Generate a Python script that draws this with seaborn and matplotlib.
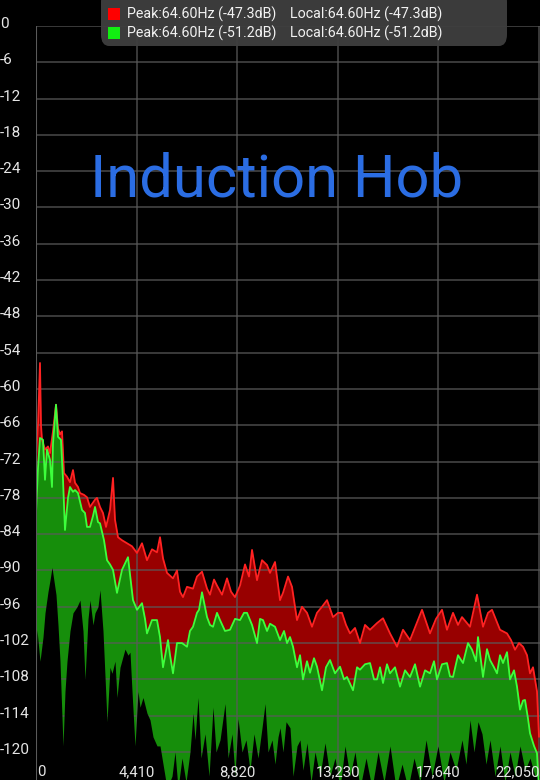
import numpy as np
import pandas as pd
import matplotlib
matplotlib.use("Agg")
import matplotlib.pyplot as plt
import matplotlib.transforms as mtransforms
from matplotlib.patches import FancyBboxPatch, Rectangle
import seaborn as sns

# ---------------- data ----------------
red_freq = [0, 88, 175, 219, 263, 395, 526, 614, 745, 877, 964, 1052, 1140, 1227, 1359, 1490, 1622,
            1710, 1841, 1929, 2104, 2236, 2367, 2587, 2674, 2806, 2937, 3069, 3244, 3376, 3463, 3595,
            3770, 3990, 4209, 4428, 4647, 4866, 5085, 5305, 5436, 5568, 5743, 6006, 6181, 6313, 6444,
            6620, 6883, 7058, 7277, 7497, 7628, 7804, 7935, 8155, 8374, 8549, 8724, 8944, 9163, 9338,
            9470, 9689, 9908, 10128, 10259, 10478, 10697, 10829, 11048, 11222, 11442, 11661, 11880,
            12100, 12319, 12538, 12757, 13020, 13240, 13415, 13590, 13765, 13985, 14204, 14423, 14642,
            14949, 15212, 15519, 15826, 16089, 16396, 16659, 16922, 17272, 17535, 17798, 18017, 18281,
            18500, 18675, 19026, 19333, 19596, 19815, 19990, 20341, 20648, 20823, 20999, 21174, 21350,
            21525, 21656, 21788, 21963, 22050]
red_db = [-71.2, -66.0, -55.7, -66.0, -68.4, -70.0, -69.5, -70.6, -67.0, -62.6, -66.5, -67.5, -67.0,
          -73.9, -74.5, -75.4, -73.4, -75.5, -76.2, -77.2, -77.5, -77.9, -79.5, -78.3, -78.0, -79.5,
          -80.5, -82.8, -80.0, -74.7, -81.6, -84.5, -85.0, -85.5, -86.0, -87.1, -85.5, -88.3, -86.5,
          -87.0, -84.5, -88.0, -90.4, -91.3, -90.0, -93.5, -94.4, -92.7, -93.0, -91.0, -90.2, -93.0,
          -94.0, -91.5, -92.5, -94.0, -91.3, -93.5, -94.4, -92.5, -89.0, -91.0, -86.6, -91.6, -88.3,
          -89.1, -90.4, -88.6, -94.9, -93.7, -91.0, -92.7, -98.2, -96.0, -97.0, -99.3, -97.0, -96.0,
          -94.9, -97.7, -97.0, -97.0, -99.0, -100.4, -99.5, -102.0, -99.0, -99.8, -98.7, -97.9,
          -100.4, -102.6, -99.8, -101.5, -99.0, -96.5, -100.4, -98.0, -96.5, -99.8, -97.0, -99.0,
          -97.7, -99.3, -94.0, -99.3, -97.0, -96.5, -99.8, -100.4, -101.5, -103.1, -102.0, -102.6,
          -104.0, -107.0, -106.0, -110.0, -117.5]

green_freq = [0, 88, 175, 307, 395, 482, 614, 701, 745, 877, 964, 1096, 1184, 1271, 1403, 1490, 1622,
              1710, 1841, 2017, 2148, 2236, 2367, 2499, 2587, 2718, 2806, 2981, 3113, 3244, 3376, 3551,
              3770, 4033, 4165, 4253, 4428, 4647, 4779, 4866, 5085, 5305, 5436, 5568, 5787, 5875, 6006,
              6181, 6401, 6620, 6751, 6883, 7058, 7146, 7277, 7497, 7628, 7760, 7935, 8067, 8286, 8505,
              8724, 8944, 9119, 9251, 9470, 9689, 9821, 9952, 10128, 10259, 10478, 10697, 10873, 11004,
              11135, 11267, 11442, 11574, 11705, 11880, 12012, 12187, 12319, 12538, 12713, 12889, 13108,
              13327, 13503, 13634, 13897, 14073, 14204, 14423, 14642, 14818, 14949, 15081, 15212, 15387,
              15519, 15738, 15957, 16177, 16396, 16615, 16835, 17054, 17272, 17448, 17579, 17798, 18017,
              18149, 18281, 18500, 18719, 18938, 19114, 19289, 19377, 19508, 19596, 19771, 19903, 20078,
              20209, 20341, 20473, 20648, 20779, 20955, 21086, 21218, 21350, 21437, 21569, 21656, 21832,
              21963, 22050]
green_db = [-80.5, -73.0, -68.1, -68.4, -75.0, -70.0, -71.7, -76.2, -69.0, -62.6, -67.9, -68.4, -75.0,
            -83.3, -78.0, -76.2, -77.0, -76.7, -77.2, -80.0, -80.5, -82.8, -82.8, -81.0, -79.5, -82.0,
            -82.2, -85.0, -88.3, -89.0, -89.9, -93.7, -89.9, -87.8, -92.0, -94.9, -96.5, -95.4, -98.0,
            -100.4, -98.2, -98.2, -101.0, -106.0, -101.5, -104.0, -107.0, -102.0, -102.0, -102.6,
            -100.0, -99.3, -97.0, -96.5, -93.6, -97.7, -99.0, -99.3, -97.0, -98.2, -100.0, -99.8,
            -98.0, -98.2, -97.0, -97.0, -99.0, -102.0, -98.0, -98.2, -100.0, -98.8, -99.3, -101.5,
            -100.0, -102.0, -101.0, -102.6, -106.0, -104.0, -108.0, -105.0, -106.9, -104.5, -105.9,
            -109.8, -106.0, -104.8, -107.0, -105.9, -108.0, -107.6, -109.8, -106.0, -106.4, -105.5,
            -105.3, -108.0, -108.0, -106.0, -108.6, -105.5, -107.0, -106.0, -109.2, -106.5, -107.6,
            -105.5, -109.2, -106.5, -107.0, -105.0, -108.0, -105.5, -105.3, -107.5, -107.6, -104.0,
            -105.3, -102.0, -103.1, -105.0, -101.0, -105.0, -107.6, -103.0, -104.8, -106.0, -107.0,
            -104.0, -105.3, -103.5, -108.0, -106.5, -109.2, -113.0, -111.5, -111.4, -114.5, -116.9,
            -119.0, -120.2, -126.0]

floor_freq = [0, 44, 175, 307, 395, 526, 614, 701, 877, 964, 1052, 1184, 1271, 1359, 1490, 1622, 1797,
              1929, 2060, 2148, 2280, 2367, 2499, 2587, 2718, 2806, 2937, 3113, 3244, 3332, 3463, 3551,
              3683, 3902, 4033, 4121, 4209, 4340, 4472, 4560, 4691, 4866, 4998, 5129, 5305, 5436, 5568,
              5743, 5962, 6094, 6225, 6401, 6576, 6751, 6883, 6971, 7102, 7234, 7409, 7585, 7760, 7891,
              8067, 8286, 8418, 8593, 8724, 8856, 9031, 9207, 9382, 9557, 9733, 9908, 10040, 10171,
              10347, 10478, 10610, 10697, 10829, 10961, 11135, 11267, 11442, 11574, 11705, 11880, 12056,
              12231, 12450, 12669, 12889, 13108, 13327, 13546, 13765, 13985, 14204, 14467, 14730, 14993,
              15256, 15519, 15782, 16045, 16308, 16571, 16835, 17098, 17361, 17623, 17886, 18149, 18412,
              18675, 18851, 19026, 19202, 19377, 19552, 19727, 19903, 20122, 20341, 20560, 20779, 20999,
              21218, 21437, 21656, 21876, 22050]
floor_db = [-108.0, -99.8, -105.0, -101.0, -97.0, -93.5, -91.6, -89.5, -94.0, -99.0, -105.0, -119.0,
            -110.0, -105.0, -100.0, -97.0, -96.0, -94.9, -100.0, -108.0, -98.0, -94.9, -99.0, -97.0,
            -96.0, -93.2, -100.0, -115.0, -106.0, -107.0, -105.0, -111.0, -106.0, -103.0, -104.0,
            -103.5, -110.0, -119.0, -110.0, -112.6, -111.0, -113.6, -114.7, -117.5, -119.0, -119.0,
            -122.0, -126.0, -124.0, -120.0, -126.0, -121.0, -125.0, -120.0, -113.6, -118.0, -111.0,
            -121.0, -117.0, -124.0, -112.6, -120.0, -118.0, -112.0, -121.0, -117.0, -124.0, -114.5,
            -120.0, -118.0, -123.0, -117.0, -121.0, -116.0, -112.0, -120.0, -118.0, -122.0, -117.5,
            -116.0, -120.0, -115.0, -116.0, -124.0, -119.0, -118.0, -123.0, -118.5, -125.0, -120.0,
            -124.0, -118.5, -124.0, -121.0, -126.0, -119.0, -124.0, -120.0, -126.0, -121.0, -126.0,
            -120.0, -125.0, -119.0, -126.0, -122.0, -126.0, -121.0, -125.0, -118.0, -124.0, -119.0,
            -125.0, -120.0, -123.0, -118.0, -122.0, -114.7, -120.0, -115.0, -117.0, -122.0, -118.0,
            -124.0, -119.0, -125.0, -120.0, -124.0, -119.0, -123.0, -121.0, -124.0, -124.0]

x_ticks = [0, 4410, 8820, 13230, 17640, 22050]
x_tick_labels = ["0", "4,410", "8,820", "13,230", "17,640", "22,050"]
y_ticks = [0, -6, -12, -18, -24, -30, -36, -42, -48, -54, -60, -66, -72, -78, -84, -90, -96, -102,
           -108, -114, -120]
legend_rows = [("Peak:64.60Hz (-47.3dB)", "Local:64.60Hz (-47.3dB)"),
               ("Peak:64.60Hz (-51.2dB)", "Local:64.60Hz (-51.2dB)")]
title_text = "Induction Hob"

# ---------------- styling ----------------
sns.set_theme(style="dark", rc={"axes.facecolor": "black", "figure.facecolor": "black"})
plt.rcParams["font.family"] = ["Roboto", "DejaVu Sans"]

W, H = 540, 780
fig = plt.figure(figsize=(W / 100, H / 100), dpi=100)
ax = fig.add_axes([36 / W, 0, 504 / W, 754 / H])
ax.set_facecolor("black")

YMIN = -124.63
ax.set_xlim(0, 22094)
ax.set_ylim(YMIN, 0)

RED_FILL = "#980000"
RED_LINE = "#ff2222"
GREEN_FILL = "#0c9a0c"
GREEN_LINE = "#3cff3c"

ax.fill_between(red_freq, red_db, YMIN - 5, color=RED_FILL, lw=0, zorder=1)
ax.fill_between(green_freq, green_db, YMIN - 5, color=GREEN_FILL, alpha=0.93, lw=0, zorder=2)
ax.fill_between(floor_freq, floor_db, YMIN - 5, color="black", lw=0, zorder=3)

red_df = pd.DataFrame({"freq": red_freq, "db": red_db})
green_df = pd.DataFrame({"freq": green_freq, "db": green_db})
sns.lineplot(data=red_df, x="freq", y="db", ax=ax, color=RED_LINE, lw=1.3, zorder=4)
sns.lineplot(data=green_df, x="freq", y="db", ax=ax, color=GREEN_LINE, lw=1.3, zorder=5)

# grid
ax.set_xticks(x_ticks)
ax.set_yticks(y_ticks)
ax.grid(True, color="#5a5a5a", lw=1.2, alpha=0.75, zorder=6)
ax.set_axisbelow(False)
for s in ax.spines.values():
    s.set_visible(False)
ax.axvline(0, color="#5a5a5a", lw=1.5, zorder=6)
ax.set_xlabel("")
ax.set_ylabel("")
ax.tick_params(axis="x", labelbottom=False, length=0)
ax.tick_params(axis="y", length=0, pad=36 * 0.72, labelsize=11, labelcolor="#e6e6e6")
ax.set_yticklabels([str(v) for v in y_ticks])
off = mtransforms.ScaledTranslation(0, 3.5 / 100, fig.dpi_scale_trans)
for lab in ax.get_yticklabels():
    lab.set_horizontalalignment("left")
    lab.set_transform(lab.get_transform() + off)

# x labels inside plot at bottom
trans = mtransforms.blended_transform_factory(ax.transData, ax.transAxes)
for i, (v, t) in enumerate(zip(x_ticks, x_tick_labels)):
    ha = "center"
    xv = v
    if i == 0:
        ha = "left"
        xv = v + 30
    elif i == len(x_ticks) - 1:
        ha = "right"
        xv = 22094
    ax.text(xv, 8 / 754, t, transform=trans, ha=ha, va="center", fontsize=10.7,
            color="#e6e6e6", zorder=10)

# title
fig.text(277 / W, 1 - 180 / H, title_text, ha="center", va="center", fontsize=43,
         color="#2b6de3")

# legend box
box = FancyBboxPatch((101 / W, 1 - 46 / H), 406 / W, 56 / H,
                     boxstyle="round,pad=0,rounding_size=0.015",
                     transform=fig.transFigure, facecolor="#3f3f3f", edgecolor="none",
                     alpha=0.95, zorder=20)
fig.patches.append(box)
for r, (col, (t1, t2)) in enumerate(zip(["#ff0000", "#11ee11"], legend_rows)):
    yc = 14 + r * 19
    fig.patches.append(Rectangle((108 / W, 1 - (yc + 6) / H), 12 / W, 12 / H,
                                 transform=fig.transFigure, facecolor=col,
                                 edgecolor="none", zorder=21))
    fig.text(127 / W, 1 - yc / H, t1, ha="left", va="center", fontsize=10.3,
             color="#f2f2f2", zorder=22)
    fig.text(290 / W, 1 - yc / H, t2, ha="left", va="center", fontsize=10.3,
             color="#f2f2f2", zorder=22)

fig.savefig("out.png", dpi=100, facecolor="black")
